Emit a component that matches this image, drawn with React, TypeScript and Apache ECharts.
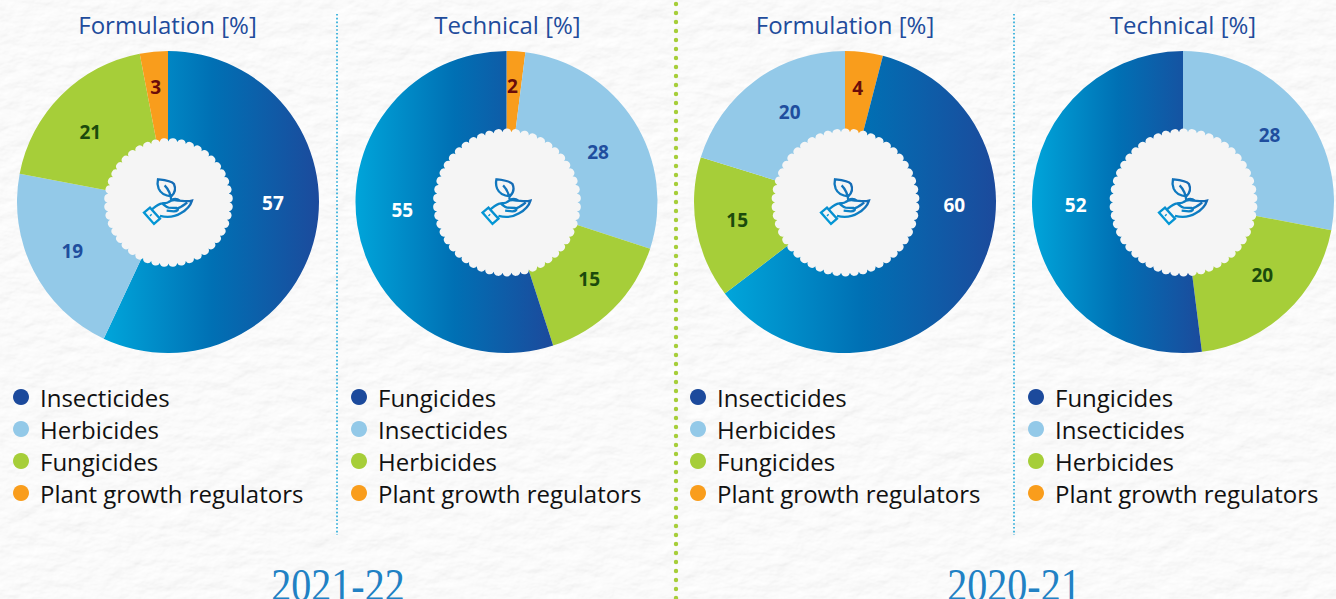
import React, { useEffect, useRef } from "react";
import * as echarts from "echarts";

const NAVY = "#1c4a9c";
const SKY = "#93c9e8";
const LIME = "#a6ce39";
const ORANGE = "#f99d1c";

// Clockwise from 12 o'clock. Printed numbers, as the reference prints them.
const printed1 = [57, 19, 21, 3];
const printed2 = [2, 28, 15, 55];
const printed3 = [4, 60, 15, 20];
const printed4 = [28, 20, 52];

// Arc shares as drawn. In the first pie the reference draws the slice printed 19
// about as wide as 21, and the slice printed 21 about as wide as 19; that is kept as it appears.
const arcs1 = [57, 21, 19, 3];
const arcs2 = printed2;
const arcs3 = printed3;
const arcs4 = printed4;

const names1 = ["Insecticides", "Herbicides", "Fungicides", "Plant growth regulators"];
const names2 = ["Plant growth regulators", "Insecticides", "Herbicides", "Fungicides"];
const names3 = ["Plant growth regulators", "Insecticides", "Fungicides", "Herbicides"];
const names4 = ["Insecticides", "Herbicides", "Fungicides"];

const legendOrder1 = ["Insecticides", "Herbicides", "Fungicides", "Plant growth regulators"];
const legendOrder2 = ["Fungicides", "Insecticides", "Herbicides", "Plant growth regulators"];
const legendColors = [NAVY, SKY, LIME, ORANGE];

const titles = ["Formulation [%]", "Technical [%]", "Formulation [%]", "Technical [%]"];
const years = ["2021-22", "2020-21"];

const blue = (x: number, x2: number) => ({
  type: "linear", global: true, x, y: 0, x2, y2: 0,
  colorStops: [
    { offset: 0, color: "#00a5da" },
    { offset: 0.5, color: "#0070b4" },
    { offset: 1, color: "#1c4a9c" },
  ],
});

const textWhite = "#ffffff", textNavy = "#1f4e9e", textGreen = "#1b4a0c", textRed = "#6a0d0a";

const pies = [
  { cx: 168, printed: printed1, arcs: arcs1, names: names1, legend: legendOrder1, legendX: 13, titleX: 167.5, hub: "scallopSmall",
    colors: [blue(105, 320), SKY, LIME, ORANGE],
    text: [textWhite, textNavy, textGreen, textRed],
    off: [[-1, -23], [1, 0], [-1, 7], [-2, -7]] },
  { cx: 506.5, printed: printed2, arcs: arcs2, names: names2, legend: legendOrder2, legendX: 351, titleX: 507.5, hub: "scallopLarge",
    colors: [ORANGE, SKY, LIME, blue(355, 553)],
    text: [textRed, textNavy, textGreen, textWhite],
    off: [[-1, -8], [0, 8], [6, 0], [3, -9]] },
  { cx: 845, printed: printed3, arcs: arcs3, names: names3, legend: legendOrder1, legendX: 690, titleX: 845, hub: "scallopLarge",
    colors: [ORANGE, blue(727, 997), LIME, SKY],
    text: [textRed, textWhite, textGreen, textNavy],
    off: [[-1, -6], [19, -57], [-1, -1], [9, -3]] },
  { cx: 1183, printed: printed4, arcs: arcs4, names: names4, legend: legendOrder2, legendX: 1028, titleX: 1183, hub: "scallopLarge",
    colors: [SKY, LIME, blue(1032, 1204)],
    text: [textNavy, textGreen, textWhite],
    off: [[3, 2], [5, -6], [1, -4]] },
];

const CY = 202;
const UI = "'Open Sans', sans-serif";

function scallopPath(r: number, n: number) {
  const pts: string[] = [];
  const bump = (Math.PI * r) / n * 1.02;
  for (let i = 0; i <= n; i++) {
    const a = (i / n) * Math.PI * 2;
    const x = (r * Math.cos(a)).toFixed(2);
    const y = (r * Math.sin(a)).toFixed(2);
    pts.push(i === 0 ? `M${x} ${y}` : `A${bump.toFixed(2)} ${bump.toFixed(2)} 0 0 1 ${x} ${y}`);
  }
  return pts.join(" ") + " Z";
}

const iconD =
  "M60 22 C78 24 100 26 108 36 C114 50 110 64 100 73 C84 72 68 64 62 50 C58 40 58 30 60 22 Z " +
  "M80 40 C90 50 98 62 100 86 " +
  "M18 122 L36 107 L66 140 L48 156 Z " +
  "M37 128 L40 131 " +
  "M42 112 C52 104 60 96 72 94 C80 92 86 96 92 90 C102 82 112 84 120 86 C132 86 146 90 162 86 " +
  "C158 100 146 114 128 124 C112 134 92 138 66 132 " +
  "M72 94 C80 100 86 106 92 107 L116 108 C124 112 118 118 108 118 L86 116 " +
  "M118 110 C128 106 136 100 148 92 " +
  "M100 84 C108 80 118 80 126 86";

const bgSvg = `<svg xmlns='http://www.w3.org/2000/svg' width='1336' height='599'><filter id='p' x='0' y='0' width='100%' height='100%'><feTurbulence type='fractalNoise' baseFrequency='0.04 0.07' numOctaves='4' seed='7'/><feDiffuseLighting surfaceScale='1' lighting-color='#ffffff' diffuseConstant='1'><feDistantLight azimuth='60' elevation='73'/></feDiffuseLighting></filter><rect width='1336' height='599' filter='url(#p)'/></svg>`;

export default function App() {
  const ref = useRef<HTMLDivElement>(null);
  useEffect(() => {
    if (!ref.current) return;
    echarts.graphic.registerShape("scallopSmall", echarts.graphic.extendPath(scallopPath(61, 44), {}));
    echarts.graphic.registerShape("scallopLarge", echarts.graphic.extendPath(scallopPath(70.5, 50), {}));
    echarts.graphic.registerShape("plantHand", echarts.graphic.extendPath(iconD, {}));
    const chart = echarts.init(ref.current, undefined, { renderer: "svg" });

    const series = pies.map((p) => ({
      type: "pie",
      silent: true,
      center: [p.cx, CY],
      radius: [60, 151],
      startAngle: 90,
      clockwise: true,
      avoidLabelOverlap: false,
      labelLine: { show: false },
      emphasis: { disabled: true },
      data: p.arcs.map((v, i) => ({
        name: p.names[i],
        value: v,
        itemStyle: { color: p.colors[i] },
        label: {
          show: true,
          position: "inside",
          formatter: String(p.printed[i]),
          offset: p.off[i],
          color: p.text[i],
          fontFamily: UI,
          fontWeight: 700,
          fontSize: 19,
        },
      })),
    }));

    const legend = pies.map((p) => ({
      orient: "vertical",
      left: p.legendX,
      top: 385,
      padding: 0,
      itemWidth: 16,
      itemHeight: 16,
      itemGap: 8,
      selectedMode: false,
      icon: "circle",
      textStyle: {
        color: "#111111",
        fontFamily: UI,
        fontSize: 24,
        padding: [0, 0, 0, 6],
        lineHeight: 22,
      },
      data: p.legend.map((name, i) => ({ name, itemStyle: { color: legendColors[i] } })),
    }));

    const title = pies.map((p, i) => ({
      text: titles[i],
      left: p.titleX,
      top: 12,
      padding: 0,
      textAlign: "center",
      textStyle: { color: "#1f4c9c", fontFamily: UI, fontWeight: 400, fontSize: 24 },
    }));

    const graphic: any[] = [];
    pies.forEach((p) => {
      graphic.push({
        type: p.hub, x: p.cx + 0.5, y: CY + 0.5, z: 10, silent: true,
        style: { fill: "#f5f5f5" },
      });
      graphic.push({
        type: "plantHand", x: p.cx - 30, y: CY - 30, scaleX: 1 / 3, scaleY: 1 / 3, z: 11, silent: true,
        style: {
          fill: "none",
          lineWidth: 7,
          stroke: {
            type: "linear", x: 0, y: 1, x2: 1, y2: 0,
            colorStops: [{ offset: 0, color: "#00a0dc" }, { offset: 1, color: "#1c5aa8" }],
          },
        },
      });
    });
    [337, 1014].forEach((x) => {
      graphic.push({
        type: "line", z: 5, silent: true,
        shape: { x1: x, y1: 14, x2: x, y2: 535 },
        style: { stroke: "#1fa7d8", lineWidth: 1.6, lineDash: [1.6, 2.2] },
      });
    });
    graphic.push({
      type: "line", z: 5, silent: true,
      shape: { x1: 676, y1: 4, x2: 676, y2: 599 },
      style: { stroke: LIME, lineWidth: 4.4, lineCap: "round", lineDash: [0, 9] },
    });
    [[338, years[0]], [1014, years[1]]].forEach(([x, t]) => {
      graphic.push({
        type: "text", z: 5, silent: true, x: x as number, y: 562, scaleY: 1.16,
        style: {
          text: t as string,
          font: "400 40px 'Liberation Serif', serif",
          textAlign: "center",
          textVerticalAlign: "top",
          fill: "#2181c4",
        },
      });
    });

    chart.setOption({ animation: false, backgroundColor: "transparent", title, legend, series, graphic });
    return () => chart.dispose();
  }, []);
  return (
    <div
      ref={ref}
      style={{
        position: "fixed", left: 0, top: 0, width: 1336, height: 599, overflow: "hidden",
        backgroundColor: "#f2f2f2",
        backgroundImage: `url("data:image/svg+xml,${encodeURIComponent(bgSvg)}")`,
      }}
    />
  );
}
